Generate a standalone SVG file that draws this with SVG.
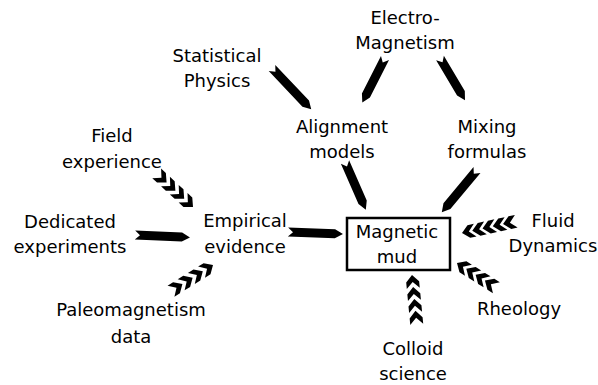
<svg xmlns="http://www.w3.org/2000/svg" xmlns:xlink="http://www.w3.org/1999/xlink" width="598" height="385" viewBox="0 0 598 385">
<style>
text{font-family:"DejaVu Sans","Liberation Sans",sans-serif;font-size:18px;fill:#000;text-anchor:middle}
.blk{fill:#000}
.box{fill:#fff;stroke:#000;stroke-width:2.5}
</style>
<defs>
<path id="chev" d="M-2,-6.5 L5,0 L-2,6.5 L-8.5,6.5 L-2,0 L-8.5,-6.5 Z" fill="#000"/>
</defs>
<rect width="598" height="385" fill="#fff"/>
<g id="connectors">
<polygon class="blk" transform="translate(272,68) rotate(46.5)" points="0,-4.5 49,-4.5 57,0 49,4.5 0,4.5 5,0"/>
<polygon class="blk" transform="translate(385,58) rotate(117)" points="0,-4.5 42,-4.5 50,0 42,4.5 0,4.5 5,0"/>
<polygon class="blk" transform="translate(440,58) rotate(59.3)" points="0,-4.5 41,-4.5 49,0 41,4.5 0,4.5 5,0"/>
<polygon class="blk" transform="translate(345,162) rotate(66.4)" points="0,-4.5 44,-4.5 52,0 44,4.5 0,4.5 5,0"/>
<polygon class="blk" transform="translate(477,170) rotate(129.8)" points="0,-4.5 47,-4.5 55,0 47,4.5 0,4.5 5,0"/>
<polygon class="blk" transform="translate(135,235) rotate(2.5)" points="0,-4.5 47,-4.5 55,0 47,4.5 0,4.5 5,0"/>
<polygon class="blk" transform="translate(288,232) rotate(2)" points="0,-4.5 47,-4.5 55,0 47,4.5 0,4.5 5,0"/>
<g transform="translate(193,207) rotate(42.8)">
<use xlink:href="#chev" x="-5"/><use xlink:href="#chev" x="-17"/><use xlink:href="#chev" x="-29"/><use xlink:href="#chev" x="-41"/>
</g>
<g transform="translate(213,265) rotate(-31.9)">
<use xlink:href="#chev" x="-5"/><use xlink:href="#chev" x="-17"/><use xlink:href="#chev" x="-29"/><use xlink:href="#chev" x="-41"/>
</g>
<g transform="translate(412,275) rotate(-95.5)">
<use xlink:href="#chev" x="-5"/><use xlink:href="#chev" x="-17"/><use xlink:href="#chev" x="-29"/><use xlink:href="#chev" x="-41"/>
</g>
<g transform="translate(457,263) rotate(212.1)">
<use xlink:href="#chev" x="-5"/><use xlink:href="#chev" x="-16"/><use xlink:href="#chev" x="-27"/><use xlink:href="#chev" x="-38"/>
</g>
<g transform="translate(462,233) rotate(167.8)">
<use xlink:href="#chev" x="-5"/><use xlink:href="#chev" x="-15.5"/><use xlink:href="#chev" x="-26"/><use xlink:href="#chev" x="-36.5"/><use xlink:href="#chev" x="-47"/>
</g>
</g>
<g id="electromagnetism"><text x="405" y="24">Electro-</text><text x="405" y="49">Magnetism</text></g>
<g id="statistical-physics"><text x="217" y="62">Statistical</text><text x="217" y="87">Physics</text></g>
<g id="alignment-models"><text x="342" y="133">Alignment</text><text x="342" y="158">models</text></g>
<g id="mixing-formulas"><text x="487" y="133">Mixing</text><text x="487" y="158">formulas</text></g>
<g id="field-experience"><text x="112" y="142">Field</text><text x="112" y="168">experience</text></g>
<g id="dedicated-experiments"><text x="70" y="228">Dedicated</text><text x="70" y="253">experiments</text></g>
<g id="empirical-evidence"><text x="245" y="227">Empirical</text><text x="245" y="253">evidence</text></g>
<g id="magnetic-mud"><rect class="box" x="347" y="218" width="103" height="52"/><text x="397" y="238">Magnetic</text><text x="397" y="263">mud</text></g>
<g id="fluid-dynamics"><text x="553" y="227">Fluid</text><text x="553" y="252">Dynamics</text></g>
<g id="rheology"><text x="519" y="315">Rheology</text></g>
<g id="paleomagnetism-data"><text x="131" y="316">Paleomagnetism</text><text x="131" y="343">data</text></g>
<g id="colloid-science"><text x="413" y="355">Colloid</text><text x="413" y="380">science</text></g>
</svg>
